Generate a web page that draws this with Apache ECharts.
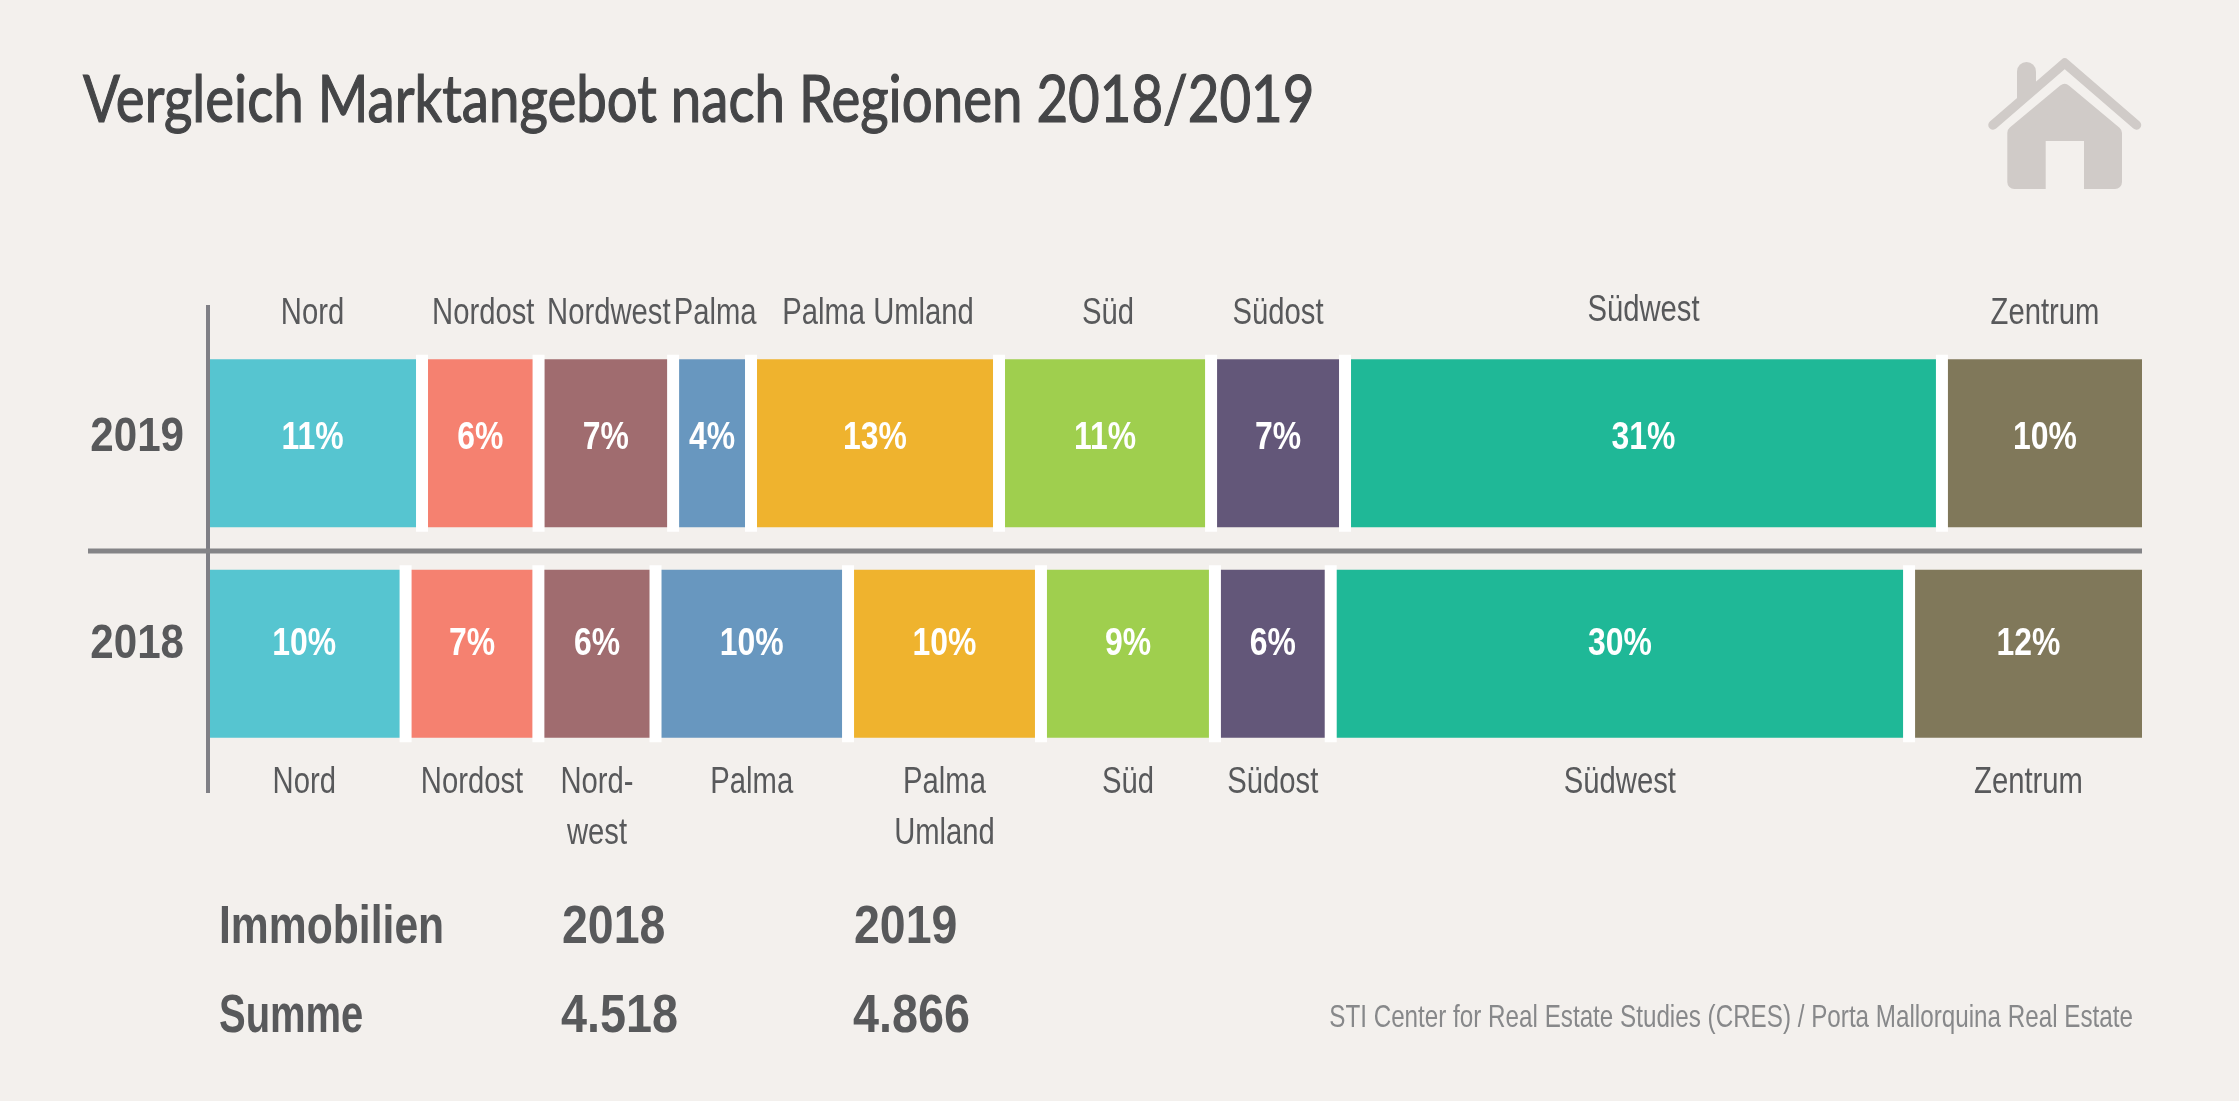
<!DOCTYPE html>
<html>
<head>
<meta charset="utf-8">
<title>Vergleich Marktangebot</title>
<style>
html, body { margin: 0; padding: 0; background: #f3f0ed; }
#myChart { width: 2239px; height: 1101px; }
</style>
</head>
<body>
<div id="myChart"></div>
<script src="https://cdn.jsdelivr.net/npm/echarts@6/dist/echarts.min.js"></script>
<script>
var years = ['2018', '2019'];
var regions = ['Nord', 'Nordost', 'Nordwest', 'Palma', 'Palma Umland', 'Süd', 'Südost', 'Südwest', 'Zentrum'];
var regions2018 = ['Nord', 'Nordost', 'Nord-\nwest', 'Palma', 'Palma\nUmland', 'Süd', 'Südost', 'Südwest', 'Zentrum'];
var values2018 = [10.17, 6.87, 6.06, 9.96, 9.98, 9.0, 5.99, 29.92, 12.05];
var values2019 = [11.02, 6.03, 6.96, 4.03, 12.83, 10.97, 6.93, 30.88, 10.35];
var tableRowHead = ['Immobilien', '2018', '2019'];
var tableRowSum = ['Summe', '4.518', '4.866'];
var colors = ['#56c5d0', '#f58170', '#a06c6f', '#6897bf', '#efb32e', '#9fcf4e', '#635779', '#1fb897', '#80785a'];

// no condensed font installed, so the text is squeezed with scaleX
var sans = '"Liberation Sans", sans-serif';
var textColor = '#58595b';
var barHeight = 168;
var gapWidth = 12;

var myChart = echarts.init(document.getElementById('myChart'));

// one stacked series per region
var seriesData = [];
for (var i = 0; i < regions.length; i++) {
	seriesData.push({
		type: 'bar',
		name: regions[i],
		stack: 'share',
		barWidth: barHeight,
		itemStyle: { color: colors[i] },
		data: [values2018[i], values2019[i]]
	});
}

// white separators and the texts follow the cumulated values
var gapData = [];
var segData = [];
var segName = [];
[values2018, values2019].forEach(function (values, yearIndex) {
	var sum = 0;
	for (var i = 0; i < values.length; i++) {
		segData.push([sum, sum + values[i], yearIndex, i]);
		segName.push(yearIndex == 0 ? regions2018[i] : regions[i]);
		sum += values[i];
		if (i < values.length - 1) gapData.push([sum, yearIndex]);
	}
});

seriesData.push({
	type: 'custom',
	name: 'gaps',
	z: 5,
	silent: true,
	encode: { x: 0, y: 1 },
	data: gapData,
	renderItem: function (params, api) {
		var p = api.coord([api.value(0), api.value(1)]);
		return {
			type: 'rect',
			shape: { x: p[0] - gapWidth / 2, y: p[1] - 88.5, width: gapWidth, height: 177 },
			style: { fill: '#fff' }
		};
	}
});

function segCenter(api) {
	var a = api.coord([api.value(0), api.value(2)]);
	var b = api.coord([api.value(1), api.value(2)]);
	var idx = api.value(3);
	return [(a[0] + b[0]) / 2 + (idx == 0 ? -3 : (idx == 8 ? 3 : 0)), a[1]];
}

// region names above 2019 and below 2018
seriesData.push({
	type: 'custom',
	name: 'names',
	z: 6,
	silent: true,
	encode: { x: [0, 1], y: 2 },
	data: segData,
	renderItem: function (params, api) {
		var c = segCenter(api);
		var idx = api.value(3);
		var isTop = api.value(2) == 1;
		var y = isTop ? c[1] - barHeight / 2 - 45 : c[1] + barHeight / 2 + 20;
		if (isTop && idx == 7) y -= 3;
		if (isTop && idx >= 1 && idx <= 5) c[0] += 3;
		return {
			type: 'text',
			x: c[0],
			y: y,
			scaleX: 0.79,
			style: {
				text: segName[params.dataIndex],
				fill: textColor,
				font: '37px ' + sans,
				lineHeight: 51,
				align: 'center',
				verticalAlign: isTop ? 'middle' : 'top'
			}
		};
	}
});

// percent labels inside the bars
seriesData.push({
	type: 'custom',
	name: 'shares',
	z: 6,
	silent: true,
	encode: { x: [0, 1], y: 2 },
	data: segData,
	renderItem: function (params, api) {
		var c = segCenter(api);
		return {
			type: 'text',
			x: c[0],
			y: c[1] + (api.value(2) == 1 ? -5 : -9),
			scaleX: 0.84,
			style: {
				text: Math.round(api.value(1) - api.value(0)) + '%',
				fill: '#fff',
				font: 'bold 38px ' + sans,
				align: 'center',
				verticalAlign: 'middle'
			}
		};
	}
});

// year labels left of the axis
seriesData.push({
	type: 'custom',
	name: 'years',
	z: 6,
	silent: true,
	encode: { y: 1 },
	data: [[0, 0], [0, 1]],
	renderItem: function (params, api) {
		var p = api.coord([0, api.value(1)]);
		return {
			type: 'text',
			x: p[0] - 25,
			y: p[1] + (api.value(1) == 1 ? -6 : -9),
			scaleX: 0.86,
			style: {
				text: years[params.dataIndex],
				fill: textColor,
				font: 'bold 49px ' + sans,
				align: 'right',
				verticalAlign: 'middle'
			}
		};
	}
});

function tableText(x, y, text, sx) {
	return {
		type: 'text',
		x: x,
		y: y,
		scaleX: sx,
		style: {
			text: text,
			fill: textColor,
			font: 'bold 54px ' + sans,
			verticalAlign: 'middle'
		}
	};
}

var iconColor = '#d0cbc8';

var option = {
	backgroundColor: '#f3f0ed',
	animation: false,
	grid: { left: 209, right: 97, top: 338, height: 421 },
	xAxis: { type: 'value', min: 0, max: 100, show: false },
	yAxis: {
		type: 'category',
		data: years,
		axisLine: { show: false },
		axisTick: { show: false },
		axisLabel: { show: false }
	},
	graphic: [
		{ type: 'text', x: 83, y: 101, scaleX: 0.84, style: {
			text: 'Vergleich Marktangebot nach Regionen 2018/2019',
			fill: '#444547',
			stroke: '#444547',
			lineWidth: 1.2,
			font: '65px Lato',
			verticalAlign: 'middle'
		} },
		{ type: 'text', x: 2133, y: 1018, scaleX: 0.757, style: {
			text: 'STI Center for Real Estate Studies (CRES) / Porta Mallorquina Real Estate',
			fill: '#87888a',
			font: '32px ' + sans,
			align: 'right',
			verticalAlign: 'middle'
		} },

		{ type: 'line', z: 10, shape: { x1: 208, y1: 305, x2: 208, y2: 793 }, style: { stroke: '#7f7f85', lineWidth: 4 } },
		{ type: 'line', z: 10, shape: { x1: 88, y1: 551, x2: 2142, y2: 551 }, style: { stroke: '#848487', lineWidth: 5 } },

		tableText(219, 928, tableRowHead[0], 0.79),
		tableText(562, 928, tableRowHead[1], 0.86),
		tableText(854, 928, tableRowHead[2], 0.86),
		tableText(219, 1017, tableRowSum[0], 0.74),
		tableText(561, 1017, tableRowSum[1], 0.865),
		tableText(853, 1017, tableRowSum[2], 0.865),

		// house icon
		{ type: 'rect', shape: { x: 2017, y: 62, width: 19, height: 30, r: [9.5, 9.5, 0, 0] }, style: { fill: iconColor } },
		{ type: 'polygon', shape: { points: [[2017, 88], [2036, 88], [2036, 85], [2017, 102]] }, style: { fill: iconColor } },
		{ type: 'polyline', shape: { points: [[1993, 125], [2064.7, 63], [2136.5, 125]] },
			style: { stroke: iconColor, lineWidth: 9.5, lineCap: 'round', lineJoin: 'round', fill: null } },
		{ type: 'polygon', shape: { points: [[2014.3, 133], [2064.7, 91], [2115, 133], [2115, 182], [2014.3, 182]] },
			style: { fill: iconColor, stroke: iconColor, lineWidth: 14, lineJoin: 'round' } },
		{ type: 'rect', shape: { x: 2045.7, y: 141, width: 38.3, height: 49 }, style: { fill: '#f3f0ed' } }
	],
	series: seriesData
};

myChart.setOption(option);
</script>
</body>
</html>
